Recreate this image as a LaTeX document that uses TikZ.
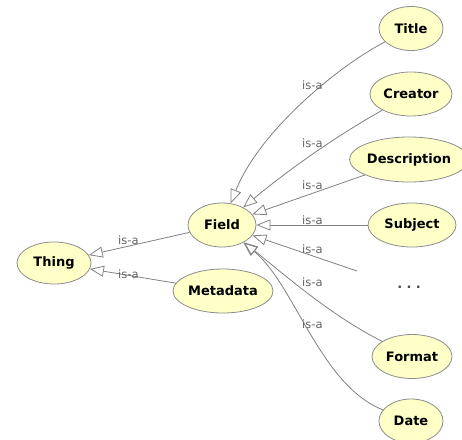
\documentclass[tikz,border=0pt]{standalone}
\usepackage{fontspec}
\setmainfont{DejaVu Sans}
\usetikzlibrary{shapes.geometric,arrows.meta}
\definecolor{nodefill}{RGB}{255,255,200}
\definecolor{nodegray}{RGB}{140,140,140}
\definecolor{edgegray}{RGB}{128,128,128}
\definecolor{labelgray}{RGB}{100,100,100}
\begin{document}
\begin{tikzpicture}[x=1pt,y=-1pt,
  cls/.style={ellipse, draw=nodegray, fill=nodefill, line width=0.8pt, inner sep=0pt,
    minimum height=44pt, font=\bfseries\fontsize{13}{15}\selectfont},
  isa/.style={draw=edgegray, line width=0.8pt, -{Triangle[open,length=14pt,width=11pt]}},
  lbl/.style={anchor=base west, inner sep=0pt, text=labelgray, font=\fontsize{11.5}{13}\selectfont}]
\useasboundingbox (0,0) rectangle (462,439);
% nodes
\node[cls, minimum width=74pt, minimum height=42pt] (thing) at (54,263) {Thing};
\node[cls, minimum width=68pt] (field) at (222,225) {Field};
\node[cls, minimum width=100pt] (metadata) at (223,291) {Metadata};
\node[cls, minimum width=64pt] (title) at (411,28.5) {Title};
\node[cls, minimum width=82pt] (creator) at (411,94) {Creator};
\node[cls, minimum width=106pt, minimum height=45pt] (description) at (409,159.5) {Description};
\node[cls, minimum width=88pt] (subject) at (412,225) {Subject};
\node[font=\bfseries\fontsize{13}{15}\selectfont, text=black!70, inner sep=0pt] (dots) at (409,287) {.\,\,.\,\,.};
\coordinate (dotsend) at (357,271);
\node[cls, minimum width=80pt] (format) at (412,356.5) {Format};
\node[cls, minimum width=64pt] (date) at (411,421) {Date};
% connectors
\draw[isa] (title) .. controls (340,65) and (260,130) .. (field);
\draw[isa] (creator) .. controls (333,138) and (287,171) .. (field);
\draw[isa] (description) -- (field);
\draw[isa] (subject) -- (field);
\draw[isa] (dotsend) -- (field);
\draw[isa] (format) .. controls (330,315) and (285,275) .. (field);
\draw[isa] (date) .. controls (320,385) and (295,285) .. (field);
\draw[isa] (field) -- (thing);
\draw[isa] (metadata) -- (thing);
% labels
\node[lbl] (l1) at (302,89) {is-a};
\node[lbl] (l2) at (302,147) {is-a};
\node[lbl] (l3) at (302,189) {is-a};
\node[lbl] (l4) at (302,224) {is-a};
\node[lbl] (l5) at (302,253) {is-a};
\node[lbl] (l6) at (302,286) {is-a};
\node[lbl] (l7) at (302,328) {is-a};
\node[lbl] (l8) at (118,244) {is-a};
\node[lbl] (l9) at (118,278) {is-a};
\end{tikzpicture}
\end{document}
